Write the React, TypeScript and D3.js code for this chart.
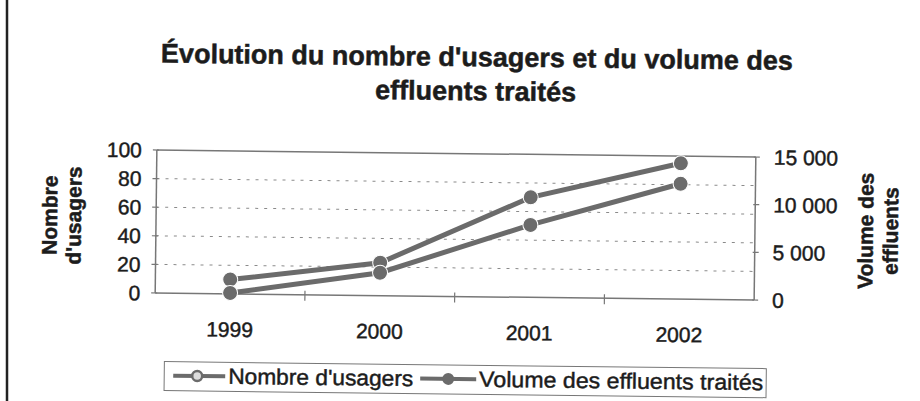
import React from 'react';
import * as d3 from 'd3';

const years = ['1999', '2000', '2001', '2002'];
const usagers = [10, 23, 70, 95];
const volume = [100, 2400, 7600, 12100];
const leftTicks = [0, 20, 40, 60, 80, 100];
const rightTicks = [0, 5000, 10000, 15000];
const titleLines = ["Évolution du nombre d'usagers et du volume des", 'effluents traités'];
const leftTitle = ['Nombre', "d'usagers"];
const rightTitle = ['Volume des', 'effluents'];
const seriesNames = ["Nombre d'usagers", 'Volume des effluents traités'];

const W = 920;
const H = 401;
const P = { left: 156, right: 755, top: 153.5, bottom: 296.5 };
const FONT = "'Liberation Sans', Arial, sans-serif";
const LINE = '#6b6b6b';
const TXT = '#1c1c1c';

const fr = d3.formatLocale({ decimal: ',', thousands: ' ', grouping: [3], currency: ['', ' €'] });
const fmt = fr.format(',');

const reg = { fill: TXT, stroke: TXT, strokeWidth: 0.45 };
const bold = { fill: TXT, stroke: TXT, strokeWidth: 0.5, fontWeight: 'bold' as const };

export default function App() {
  const x = d3.scaleBand<string>().domain(years).range([P.left, P.right]);
  const cx = (d: string) => (x(d) as number) + x.bandwidth() / 2;
  const yL = d3.scaleLinear().domain([0, 100]).range([P.bottom, P.top]);
  const yR = d3.scaleLinear().domain([0, 15000]).range([P.bottom, P.top]);

  const lineL = d3.line<number>().x((_, i) => cx(years[i])).y((v) => yL(v));
  const lineR = d3.line<number>().x((_, i) => cx(years[i])).y((v) => yR(v));

  const boundaries = years.slice(1).map((y) => x(y) as number);

  return (
    <svg width={W} height={H} style={{ position: 'absolute', left: 0, top: 0, background: '#fff' }} fontFamily={FONT}>
      <rect x={0} y={0} width={W} height={H} fill="#fff" />
      <line x1={7} x2={7} y1={0} y2={H} stroke="#222" strokeWidth={2.5} />
      <g transform={`rotate(0.67 455 225)`}>
        {/* Title */}
        <text x={475} y={66} textAnchor="middle" fontSize={27} {...bold}>{titleLines[0]}</text>
        <text x={474} y={100} textAnchor="middle" fontSize={27} {...bold}>{titleLines[1]}</text>

        {/* gridlines */}
        {leftTicks.filter((t) => t > 0 && t < 100).map((t) => (
          <line key={t} x1={P.left} x2={P.right} y1={yL(t)} y2={yL(t)} stroke="#8a8a8a" strokeWidth={1} strokeDasharray="3 6" />
        ))}

        {/* frame */}
        <line x1={P.left} x2={P.right} y1={P.top} y2={P.top} stroke="#777" strokeWidth={1.5} />
        <line x1={P.right} x2={P.right} y1={P.top} y2={P.bottom} stroke="#777" strokeWidth={1.5} />
        <line x1={P.left} x2={P.left} y1={P.top} y2={P.bottom} stroke="#777" strokeWidth={1.5} />
        <line x1={P.left} x2={P.right} y1={P.bottom} y2={P.bottom} stroke="#777" strokeWidth={1.5} />

        {/* left ticks */}
        {leftTicks.map((t) => (
          <g key={t}>
            <line x1={P.left - 4} x2={P.left + 2} y1={yL(t)} y2={yL(t)} stroke="#777" strokeWidth={1.2} />
            <text x={141} y={yL(t)} dy="0.36em" textAnchor="end" fontSize={21} {...reg}>{t}</text>
          </g>
        ))}
        {/* right ticks */}
        {rightTicks.map((t) => (
          <g key={t}>
            <line x1={P.right - 2} x2={P.right + 4} y1={yR(t)} y2={yR(t)} stroke="#777" strokeWidth={1.2} />
            <text x={773} y={yR(t)} dy="0.36em" textAnchor="start" fontSize={21} {...reg}>{fmt(t)}</text>
          </g>
        ))}
        {/* x ticks */}
        {boundaries.map((b, i) => (
          <line key={i} x1={b} x2={b} y1={P.bottom - 4} y2={P.bottom + 6} stroke="#777" strokeWidth={1.2} />
        ))}
        {years.map((y) => (
          <text key={y} x={cx(y)} y={339.5} textAnchor="middle" fontSize={21} {...reg}>{y}</text>
        ))}

        {/* axis titles */}
        <text transform={`translate(57,220) rotate(-90)`} textAnchor="middle" fontSize={21} {...bold}>{leftTitle[0]}</text>
        <text transform={`translate(81,220) rotate(-90)`} textAnchor="middle" fontSize={21} {...bold}>{leftTitle[1]}</text>
        <text transform={`translate(873,226) rotate(-90)`} textAnchor="middle" fontSize={21} {...bold}>{rightTitle[0]}</text>
        <text transform={`translate(898,226) rotate(-90)`} textAnchor="middle" fontSize={21} {...bold}>{rightTitle[1]}</text>

        {/* series */}
        <path d={lineL(usagers) || ''} fill="none" stroke={LINE} strokeWidth={5} />
        <path d={lineR(volume) || ''} fill="none" stroke={LINE} strokeWidth={5} />
        {usagers.map((v, i) => (
          <circle key={'u' + i} cx={cx(years[i])} cy={yL(v)} r={7.5} fill={LINE} stroke="#fff" strokeWidth={1} />
        ))}
        {volume.map((v, i) => (
          <circle key={'v' + i} cx={cx(years[i])} cy={yR(v)} r={7.5} fill={LINE} stroke="#fff" strokeWidth={1} />
        ))}

        {/* legend */}
        <rect x={166} y={365} width={602} height={29} fill="none" stroke="#777" strokeWidth={1} />
        <line x1={175} x2={227} y1={379} y2={379} stroke={LINE} strokeWidth={4} />
        <circle cx={199} cy={379} r={5} fill="#ddd" stroke={LINE} strokeWidth={2.5} />
        <text x={230} y={386.5} fontSize={22} {...reg} textLength={185} lengthAdjust="spacingAndGlyphs">{seriesNames[0]}</text>
        <line x1={422} x2={478} y1={379} y2={379} stroke={LINE} strokeWidth={4} />
        <circle cx={450} cy={379} r={6} fill={LINE} />
        <text x={481} y={386.5} fontSize={22} {...reg} textLength={284} lengthAdjust="spacingAndGlyphs">{seriesNames[1]}</text>
      </g>
    </svg>
  );
}
